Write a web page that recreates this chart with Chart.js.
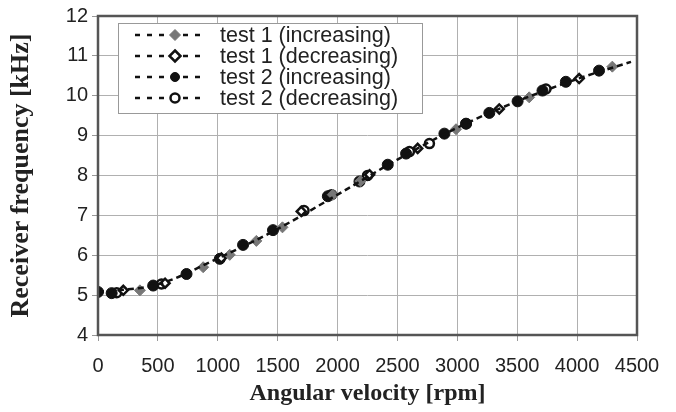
<!DOCTYPE html>
<html>
<head>
<meta charset="utf-8">
<script src="https://cdn.jsdelivr.net/npm/chart.js@4.4.1/dist/chart.umd.min.js"></script>
<style>
  html, body { margin: 0; padding: 0; background: #fff; }
  #wrap { width: 676px; height: 412px; }
</style>
</head>
<body>
<div id="wrap"><canvas id="chart" width="676" height="412"></canvas></div>
<script>
// test 1 (increasing) - grey diamonds
const t1IncX = [350, 878, 1100, 1322, 1540, 1960, 2190, 2989, 3600, 4294];
const t1IncY = [5.12, 5.70, 6.01, 6.36, 6.70, 7.52, 7.86, 9.16, 9.96, 10.73];
// test 1 (decreasing) - open diamonds
const t1DecX = [211, 560, 1030, 1697, 2267, 2669, 3350, 4017];
const t1DecY = [5.12, 5.30, 5.93, 7.10, 8.02, 8.68, 9.67, 10.43];
// test 2 (increasing) - black circles
const t2IncX = [0, 114, 461, 739, 1017, 1211, 1461, 1919, 2183, 2419, 2572, 2892, 3072, 3267, 3503, 3711, 3906, 4183];
const t2IncY = [5.08, 5.05, 5.24, 5.53, 5.91, 6.26, 6.63, 7.48, 7.85, 8.27, 8.55, 9.05, 9.30, 9.57, 9.86, 10.13, 10.35, 10.63];
// test 2 (decreasing) - open circles
const t2DecX = [156, 530, 1720, 1950, 2250, 2600, 2767, 3075, 3740];
const t2DecY = [5.06, 5.28, 7.12, 7.52, 8.00, 8.60, 8.80, 9.30, 10.17];
// dashed trend line
const trendX = [0, 500, 1000, 1500, 2000, 2500, 3000, 3500, 4000, 4450];
const trendY = [5.08, 5.27, 5.92, 6.66, 7.52, 8.40, 9.20, 9.86, 10.42, 10.85];

const seriesNames = ["test 1 (increasing)", "test 1 (decreasing)", "test 2 (increasing)", "test 2 (decreasing)"];
const xTicks = [0, 500, 1000, 1500, 2000, 2500, 3000, 3500, 4000, 4500];

function pts(xs, ys) {
    return xs.map((x, i) => ({ x: x, y: ys[i] }));
}

function series(label, xs, ys, style, fill, radius) {
    return {
        label: label,
        data: pts(xs, ys),
        showLine: false,
        pointStyle: style,
        pointRadius: radius,
        pointBackgroundColor: fill,
        pointBorderColor: fill === '#fff' ? '#111' : fill,
        pointBorderWidth: fill === '#fff' ? 2.5 : 1
    };
}

const datasets = [
    {
        label: 'trend',
        data: pts(trendX, trendY),
        showLine: true,
        borderColor: '#111',
        borderWidth: 2.5,
        borderDash: [6, 4],
        pointRadius: 0,
        cubicInterpolationMode: 'monotone'
    },
    series(seriesNames[0], t1IncX, t1IncY, 'rectRot', '#777', 5.5),
    series(seriesNames[1], t1DecX, t1DecY, 'rectRot', '#fff', 4.5),
    series(seriesNames[2], t2IncX, t2IncY, 'circle', '#111', 5.5),
    series(seriesNames[3], t2DecX, t2DecY, 'circle', '#fff', 4.5)
];

// border round the plot and the legend box drawn inside it
const framePlugin = {
    id: 'frame',
    afterDraw(chart) {
        const ctx = chart.ctx;
        const a = chart.chartArea;
        ctx.save();
        ctx.strokeStyle = '#555';
        ctx.lineWidth = 2.5;
        ctx.strokeRect(a.left, a.top, a.right - a.left, a.bottom - a.top);

        // legend
        const bx = 118, by = 23, bw = 304, bh = 90;
        ctx.fillStyle = '#fff';
        ctx.fillRect(bx, by, bw, bh);
        ctx.strokeStyle = '#999';
        ctx.lineWidth = 1;
        ctx.strokeRect(bx + 0.5, by + 0.5, bw, bh);
        ctx.font = '21.5px "Liberation Sans", Arial, sans-serif';
        ctx.textAlign = 'left';
        ctx.textBaseline = 'middle';
        for (let i = 0; i < 4; i++) {
            const ds = chart.data.datasets[i + 1];
            const y = 35 + i * 21;
            ctx.strokeStyle = '#111';
            ctx.lineWidth = 2.5;
            ctx.setLineDash([5, 7]);
            ctx.beginPath();
            ctx.moveTo(135, y);
            ctx.lineTo(206, y);
            ctx.stroke();
            ctx.setLineDash([]);
            ctx.fillStyle = '#fff';
            ctx.fillRect(167, y - 7, 16, 14);
            ctx.fillStyle = ds.pointBackgroundColor;
            ctx.strokeStyle = ds.pointBorderColor;
            ctx.lineWidth = ds.pointBorderWidth;
            ctx.beginPath();
            if (ds.pointStyle === 'circle') {
                ctx.arc(175, y, 4.5, 0, Math.PI * 2);
            } else {
                ctx.moveTo(175, y - 5.5);
                ctx.lineTo(180.5, y);
                ctx.lineTo(175, y + 5.5);
                ctx.lineTo(169.5, y);
                ctx.closePath();
            }
            ctx.fill();
            ctx.stroke();
            ctx.fillStyle = '#222';
            ctx.fillText(ds.label, 220, y + 1);
        }
        ctx.restore();
    }
};

const tickFont = { family: '"Liberation Sans", Arial, sans-serif', size: 20 };

new Chart(document.getElementById('chart'), {
    type: 'scatter',
    data: { datasets: datasets },
    options: {
        responsive: false,
        animation: false,
        layout: { padding: { top: 13, right: 39, left: 0, bottom: 0 } },
        plugins: {
            legend: { display: false },
            tooltip: { enabled: false }
        },
        scales: {
            x: {
                type: 'linear',
                min: 0,
                max: 4500,
                afterBuildTicks: (s) => { s.ticks = xTicks.map(v => ({ value: v })); },
                afterFit: (s) => { s.height = 77; },
                grid: { color: '#b0b0b0', lineWidth: 1, tickLength: 6, tickColor: '#999' },
                border: { display: false },
                ticks: { font: tickFont, color: '#222', padding: 13, maxRotation: 0, callback: (v) => String(v) },
                title: {
                    display: true, text: 'Angular velocity [rpm]', color: '#222',
                    font: { family: '"Liberation Serif", "Times New Roman", serif', size: 24, weight: 'bold' },
                    padding: { top: 4, bottom: 4 }
                }
            },
            y: {
                min: 4,
                max: 12,
                afterFit: (s) => { s.width = 98; },
                grid: { color: '#b0b0b0', lineWidth: 1, tickLength: 6, tickColor: '#999' },
                border: { display: false },
                ticks: { font: tickFont, color: '#222', stepSize: 1, padding: 4, callback: (v) => String(v) },
                title: {
                    display: true, text: 'Receiver frequency [kHz]', color: '#222',
                    font: { family: '"Liberation Serif", "Times New Roman", serif', size: 26, weight: 'bold' },
                    padding: { top: 6, bottom: 6 }
                }
            }
        }
    },
    plugins: [framePlugin]
});
</script>
</body>
</html>
